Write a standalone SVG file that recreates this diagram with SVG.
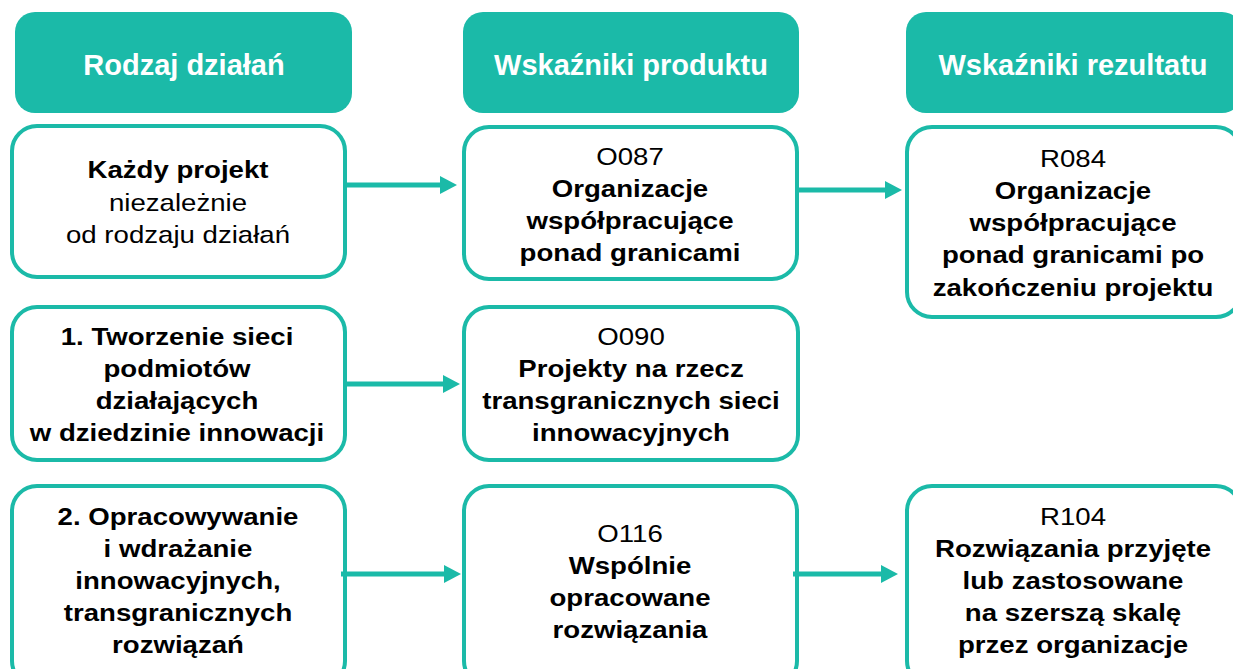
<svg xmlns="http://www.w3.org/2000/svg" width="1233" height="669" viewBox="0 0 1233 669">
<style>
.hdr{fill:#1BBAA8;}
.box{fill:#fff;stroke:#1BBAA8;stroke-width:4;}
.ht{font-family:"Liberation Sans",Arial,sans-serif;font-size:29px;font-weight:bold;fill:#fff;text-anchor:middle;}
.t{font-family:"Liberation Sans",Arial,sans-serif;font-size:24px;fill:#000;text-anchor:middle;}
.b{font-weight:bold;}
.con{stroke:#1BBAA8;stroke-width:5;fill:none;marker-end:url(#ah);}
</style>
<defs>
<marker id="ah" markerUnits="userSpaceOnUse" markerWidth="17" markerHeight="18" viewBox="0 0 17 18" refX="0" refY="9" orient="auto">
<path d="M0,0 L17,9 L0,18 Z" fill="#1BBAA8"/>
</marker>
</defs>
<rect width="1233" height="669" fill="#fff"/>

<g id="hdr-rodzaj">
<rect class="hdr" x="15" y="12" width="337" height="101" rx="20"/>
<text class="ht" x="184" y="75">Rodzaj działań</text>
</g>
<g id="hdr-produktu">
<rect class="hdr" x="463" y="12" width="336" height="101" rx="20"/>
<text class="ht" x="631" y="75">Wskaźniki produktu</text>
</g>
<g id="hdr-rezultatu">
<rect class="hdr" x="906" y="12" width="336" height="101" rx="20"/>
<text class="ht" x="1073" y="75">Wskaźniki rezultatu</text>
</g>

<g id="n-kazdy">
<rect class="box" x="12" y="126" width="333" height="151" rx="25"/>
<g transform="translate(178 0) scale(1.15 1)">
<text class="t b" x="0" y="178">Każdy projekt</text>
<text class="t" x="0" y="211">niezależnie</text>
<text class="t" x="0" y="243">od rodzaju działań</text>
</g>
</g>
<g id="n-o087">
<rect class="box" x="464" y="127" width="333" height="152" rx="25"/>
<g transform="translate(630 0) scale(1.15 1)">
<text class="t" x="0" y="165">O087</text>
<text class="t b" x="0" y="197">Organizacje</text>
<text class="t b" x="0" y="229">współpracujące</text>
<text class="t b" x="0" y="261">ponad granicami</text>
</g>
</g>
<g id="n-r084">
<rect class="box" x="907" y="127" width="334" height="190" rx="25"/>
<g transform="translate(1073 0) scale(1.15 1)">
<text class="t" x="0" y="167">R084</text>
<text class="t b" x="0" y="199">Organizacje</text>
<text class="t b" x="0" y="231">współpracujące</text>
<text class="t b" x="0" y="263">ponad granicami po</text>
<text class="t b" x="0" y="296">zakończeniu projektu</text>
</g>
</g>

<g id="n-tworzenie">
<rect class="box" x="12" y="307" width="333" height="153" rx="25"/>
<g transform="translate(177 0) scale(1.15 1)">
<text class="t b" x="0" y="345">1. Tworzenie sieci</text>
<text class="t b" x="0" y="377">podmiotów</text>
<text class="t b" x="0" y="409">działających</text>
<text class="t b" x="0" y="441">w dziedzinie innowacji</text>
</g>
</g>
<g id="n-o090">
<rect class="box" x="464" y="307" width="334" height="153" rx="25"/>
<g transform="translate(631 0) scale(1.15 1)">
<text class="t" x="0" y="345">O090</text>
<text class="t b" x="0" y="377">Projekty na rzecz</text>
<text class="t b" x="0" y="409">transgranicznych sieci</text>
<text class="t b" x="0" y="441">innowacyjnych</text>
</g>
</g>

<g id="n-opracowywanie">
<rect class="box" x="12" y="486" width="333" height="200" rx="25"/>
<g transform="translate(178 0) scale(1.15 1)">
<text class="t b" x="0" y="525">2. Opracowywanie</text>
<text class="t b" x="0" y="557">i wdrażanie</text>
<text class="t b" x="0" y="589">innowacyjnych,</text>
<text class="t b" x="0" y="621">transgranicznych</text>
<text class="t b" x="0" y="653">rozwiązań</text>
</g>
</g>
<g id="n-o116">
<rect class="box" x="464" y="486" width="333" height="200" rx="25"/>
<g transform="translate(630 0) scale(1.15 1)">
<text class="t" x="0" y="542">O116</text>
<text class="t b" x="0" y="574">Wspólnie</text>
<text class="t b" x="0" y="606">opracowane</text>
<text class="t b" x="0" y="638">rozwiązania</text>
</g>
</g>
<g id="n-r104">
<rect class="box" x="907" y="486" width="334" height="200" rx="25"/>
<g transform="translate(1073 0) scale(1.15 1)">
<text class="t" x="0" y="525">R104</text>
<text class="t b" x="0" y="557">Rozwiązania przyjęte</text>
<text class="t b" x="0" y="589">lub zastosowane</text>
<text class="t b" x="0" y="621">na szerszą skalę</text>
<text class="t b" x="0" y="653">przez organizacje</text>
</g>
</g>

<g id="connectors">
<line class="con" x1="345" y1="185" x2="440" y2="185"/>
<line class="con" x1="797" y1="190" x2="885" y2="190"/>
<line class="con" x1="345" y1="384" x2="443" y2="384"/>
<line class="con" x1="341" y1="574" x2="444" y2="574"/>
<line class="con" x1="793" y1="574" x2="881" y2="574"/>
</g>
</svg>
